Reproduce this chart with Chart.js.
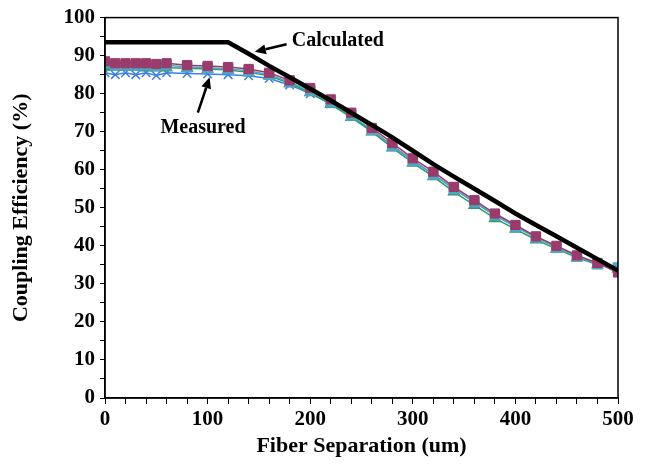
<!DOCTYPE html>
<html>
<head>
<meta charset="utf-8">
<script src="https://cdn.jsdelivr.net/npm/chart.js@4.4.1/dist/chart.umd.min.js"></script>
<style>
  html, body { margin: 0; padding: 0; background: #fff; }
  #wrap { width: 648px; height: 472px; }
</style>
</head>
<body>
<div id="wrap"><canvas id="chart" width="648" height="472"></canvas></div>
<script>
// fiber separation (um) for the measured points
const sepX = [0, 10, 20, 30, 40, 50, 60, 80, 100, 120, 140, 160, 180, 200, 220, 240,
  260, 280, 300, 320, 340, 360, 380, 400, 420, 440, 460, 480, 500];

// measured coupling efficiency (%), four runs
const measPurple = [88.5, 88, 88, 88, 88, 87.8, 88, 87.5, 87.3, 87, 86.5, 85.5, 83.5, 81.5, 78.5, 75,
  71, 67, 63, 59.5, 55.5, 52, 48.5, 45.5, 42.5, 40, 37.5, 35.5, 33];
const measTeal = [88, 87.5, 87.5, 87.5, 87.5, 87.3, 87.5, 87, 86.8, 86.5, 86, 85, 83, 80.8, 77.8, 74.3,
  70.5, 66.3, 62.3, 58.8, 55, 51.5, 48, 45, 42.2, 39.6, 37.2, 35.2, 34.3];
const measGreen = [87, 87, 87, 87, 86.8, 86.8, 86.8, 86.7, 86.5, 86.2, 85.6, 84.7, 82.7, 80.3, 77.2, 73.8,
  70, 65.8, 61.8, 58.2, 54.2, 50.7, 47.2, 44.4, 41.6, 39.2, 36.9, 35, 34];
const measBlue = [85.5, 85, 85.5, 85, 85.5, 84.8, 85.5, 85.3, 85.2, 85, 84.7, 84, 82.3, 80, 77.3, 74,
  70.3, 66.3, 62.5, 58.8, 55, 51.5, 48, 45.2, 42.3, 39.8, 37.4, 35.3, 34.2];

// calculated curve
const calcX = [0, 120, 140, 160, 180, 200, 220, 240, 260, 280, 300, 320, 340, 360, 380, 400,
  420, 440, 460, 480, 500];
const calcY = [93.5, 93.5, 90.5, 87.3, 84.3, 81.3, 78.2, 75, 71.8, 68.5, 65, 61.5, 58.2, 55, 51.8, 48.5,
  45.5, 42.5, 39.5, 36.5, 33.5];

// axis ticks
const xMajor = [0, 100, 200, 300, 400, 500];
const yMajor = [0, 10, 20, 30, 40, 50, 60, 70, 80, 90, 100];

// text callouts: label, text anchor, arrow tail, arrow head (data units)
const notes = [
  { text: 'Calculated', at: [182, 94], tail: [177, 93], head: [146, 91], align: 'left' },
  { text: 'Measured', at: [95.5, 71], tail: [90.5, 75], head: [102, 84.3], align: 'center' }
];

const pts = (xs, ys) => xs.map((x, i) => ({ x: x, y: ys[i] }));

const serif = "'Liberation Serif', 'Times New Roman', serif";

const framePlugin = {
  id: 'frame',
  afterDraw(chart) {
    const { ctx, chartArea: a, scales } = chart;
    ctx.save();
    ctx.strokeStyle = '#000';
    ctx.lineWidth = 1.5;
    ctx.strokeRect(a.left, a.top, a.right - a.left, a.bottom - a.top);

    ctx.font = 'bold 20px ' + serif;
    ctx.fillStyle = '#000';
    ctx.textBaseline = 'middle';
    notes.forEach(n => {
      const tx = scales.x.getPixelForValue(n.at[0]);
      const ty = scales.y.getPixelForValue(n.at[1]);
      ctx.textAlign = n.align;
      ctx.fillText(n.text, tx, ty);

      const x1 = scales.x.getPixelForValue(n.tail[0]);
      const y1 = scales.y.getPixelForValue(n.tail[1]);
      const x2 = scales.x.getPixelForValue(n.head[0]);
      const y2 = scales.y.getPixelForValue(n.head[1]);
      const ang = Math.atan2(y2 - y1, x2 - x1);
      const hl = 11, hw = 5;
      const bx = x2 - hl * Math.cos(ang), by = y2 - hl * Math.sin(ang);
      ctx.lineWidth = 2.5;
      ctx.beginPath();
      ctx.moveTo(x1, y1);
      ctx.lineTo(bx, by);
      ctx.stroke();
      ctx.beginPath();
      ctx.moveTo(x2, y2);
      ctx.lineTo(bx + hw * Math.sin(ang), by - hw * Math.cos(ang));
      ctx.lineTo(bx - hw * Math.sin(ang), by + hw * Math.cos(ang));
      ctx.closePath();
      ctx.fill();
    });
    ctx.restore();
  }
};

new Chart(document.getElementById('chart'), {
  type: 'line',
  data: {
    datasets: [
      {
        label: 'Calculated',
        data: pts(calcX, calcY),
        borderColor: '#000',
        borderWidth: 4.5,
        pointRadius: 0,
        tension: 0,
        order: 0
      },
      {
        label: 'Measured 1',
        data: pts(sepX, measPurple),
        borderColor: '#9a3b6c',
        backgroundColor: '#9a3b6c',
        borderWidth: 1.5,
        pointStyle: 'rect',
        pointRadius: 6.5,
        pointBorderWidth: 1,
        order: 1
      },
      {
        label: 'Measured 2',
        data: pts(sepX, measTeal),
        borderColor: '#4fa7c4',
        backgroundColor: '#4fa7c4',
        borderWidth: 1.5,
        pointStyle: 'rect',
        pointRadius: 6.5,
        order: 2
      },
      {
        label: 'Measured 3',
        data: pts(sepX, measGreen),
        borderColor: '#2f9a64',
        backgroundColor: '#2f9a64',
        borderWidth: 1.5,
        pointStyle: 'triangle',
        pointRadius: 6,
        order: 3
      },
      {
        label: 'Measured 4',
        data: pts(sepX, measBlue),
        borderColor: '#3f7ee8',
        backgroundColor: '#3f7ee8',
        borderWidth: 1.5,
        pointStyle: 'crossRot',
        pointRadius: 6,
        pointBorderWidth: 1.5,
        order: 4
      }
    ]
  },
  options: {
    responsive: false,
    animation: false,
    layout: { padding: { top: 8, right: 30, left: 0, bottom: 0 } },
    plugins: { legend: { display: false }, tooltip: { enabled: false } },
    scales: {
      x: {
        type: 'linear',
        min: 0,
        max: 500,
        afterFit(s) { s.height = 74; },
        afterBuildTicks(s) {
          const t = [];
          for (let v = 0; v <= 500; v += 20) t.push({ value: v });
          s.ticks = t;
        },
        border: { display: true, color: '#000', width: 1.5 },
        grid: { drawOnChartArea: false, drawTicks: true, tickLength: 6, tickColor: '#000' },
        ticks: {
          autoSkip: false,
          maxRotation: 0,
          padding: 3,
          color: '#000',
          font: { family: serif, size: 21, weight: 'bold' },
          callback: v => xMajor.includes(v) ? String(v) : ''
        },
        title: {
          display: true,
          text: 'Fiber Separation (um)',
          color: '#000',
          font: { family: serif, size: 22, weight: 'bold' },
          padding: { top: 0, bottom: 12 }
        }
      },
      y: {
        min: 0,
        max: 100,
        afterFit(s) { s.width = 105; },
        afterBuildTicks(s) {
          const t = [];
          for (let v = 0; v <= 100; v += 5) t.push({ value: v });
          s.ticks = t;
        },
        border: { display: true, color: '#000', width: 1.5 },
        grid: { drawOnChartArea: false, drawTicks: true, tickLength: 5, tickColor: '#000' },
        ticks: {
          autoSkip: false,
          padding: 5,
          color: '#000',
          font: { family: serif, size: 21, weight: 'bold' },
          callback: v => yMajor.includes(v) ? String(v) : ''
        },
        title: {
          display: true,
          text: 'Coupling Efficiency (%)',
          color: '#000',
          font: { family: serif, size: 22, weight: 'bold' },
          padding: { top: 8, bottom: 0 }
        }
      }
    }
  },
  plugins: [framePlugin]
});
</script>
</body>
</html>
